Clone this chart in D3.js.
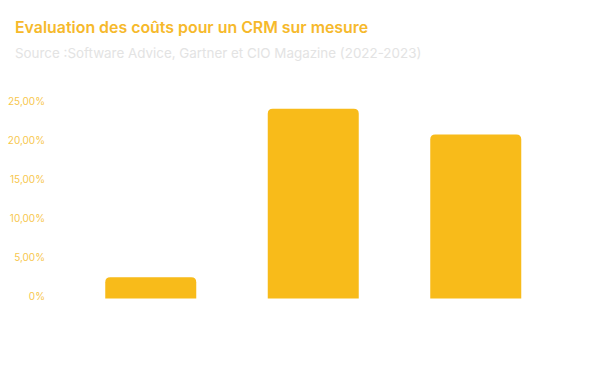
<!DOCTYPE html>
<html>
<head>
<meta charset="utf-8">
<script src="https://cdn.jsdelivr.net/npm/d3@7"></script>
<style>
  html, body { margin: 0; padding: 0; background: #fff; }
  svg { display: block; }
</style>
</head>
<body>
<svg id="chart" width="600" height="365"></svg>
<script>
const categories = ["Développement initial", "Maintenance annuelle", "Intégration & formation"];
const values = [2.4, 24.0, 20.7];
const tickValues = [0, 5, 10, 15, 20, 25];
const tickLabels = ["0%", "5,00%", "10,00%", "15,00%", "20,00%", "25,00%"];
const title = "Evaluation des coûts pour un CRM sur mesure";
const subtitle = "Source :Software Advice, Gartner et CIO Magazine (2022-2023)";

const svg = d3.select("#chart");
const fontFam = "Inter, 'Open Sans', sans-serif";

svg.append("text")
  .attr("x", 15).attr("y", 33)
  .attr("font-family", fontFam)
  .attr("font-weight", 600)
  .attr("font-size", 15.9)
  .attr("fill", "#F6B92B")
  .text(title);

svg.append("text")
  .attr("x", 15).attr("y", 58)
  .attr("font-family", fontFam)
  .attr("font-size", 13.4)
  .attr("fill", "#E3E3E3")
  .text(subtitle);

const x = d3.scaleBand()
  .domain(categories)
  .range([69.5, 557])
  .paddingInner(0.44)
  .paddingOuter(0.22);

const y = d3.scaleLinear()
  .domain([0, 25])
  .range([296, 101]);

const yAxis = d3.axisLeft(y)
  .tickValues(tickValues)
  .tickFormat((d, i) => tickLabels[i])
  .tickSize(0)
  .tickPadding(0);

const gy = svg.append("g")
  .attr("transform", "translate(45,0)")
  .call(yAxis);
gy.select(".domain").remove();
gy.selectAll("text")
  .attr("font-family", fontFam)
  .attr("font-size", 10)
  .attr("fill", "#F7C74E");

const r = 5;
const base = y(0) + 2.5;
svg.append("g").selectAll("path")
  .data(values)
  .join("path")
  .attr("fill", "#F8BB1A")
  .attr("d", (d, i) => {
    const x0 = x(categories[i]);
    const w = x.bandwidth();
    const t = y(d);
    const rr = Math.min(r, (base - t) / 2);
    return `M${x0},${base}V${t + rr}Q${x0},${t} ${x0 + rr},${t}H${x0 + w - rr}Q${x0 + w},${t} ${x0 + w},${t + rr}V${base}Z`;
  });
</script>
</body>
</html>
